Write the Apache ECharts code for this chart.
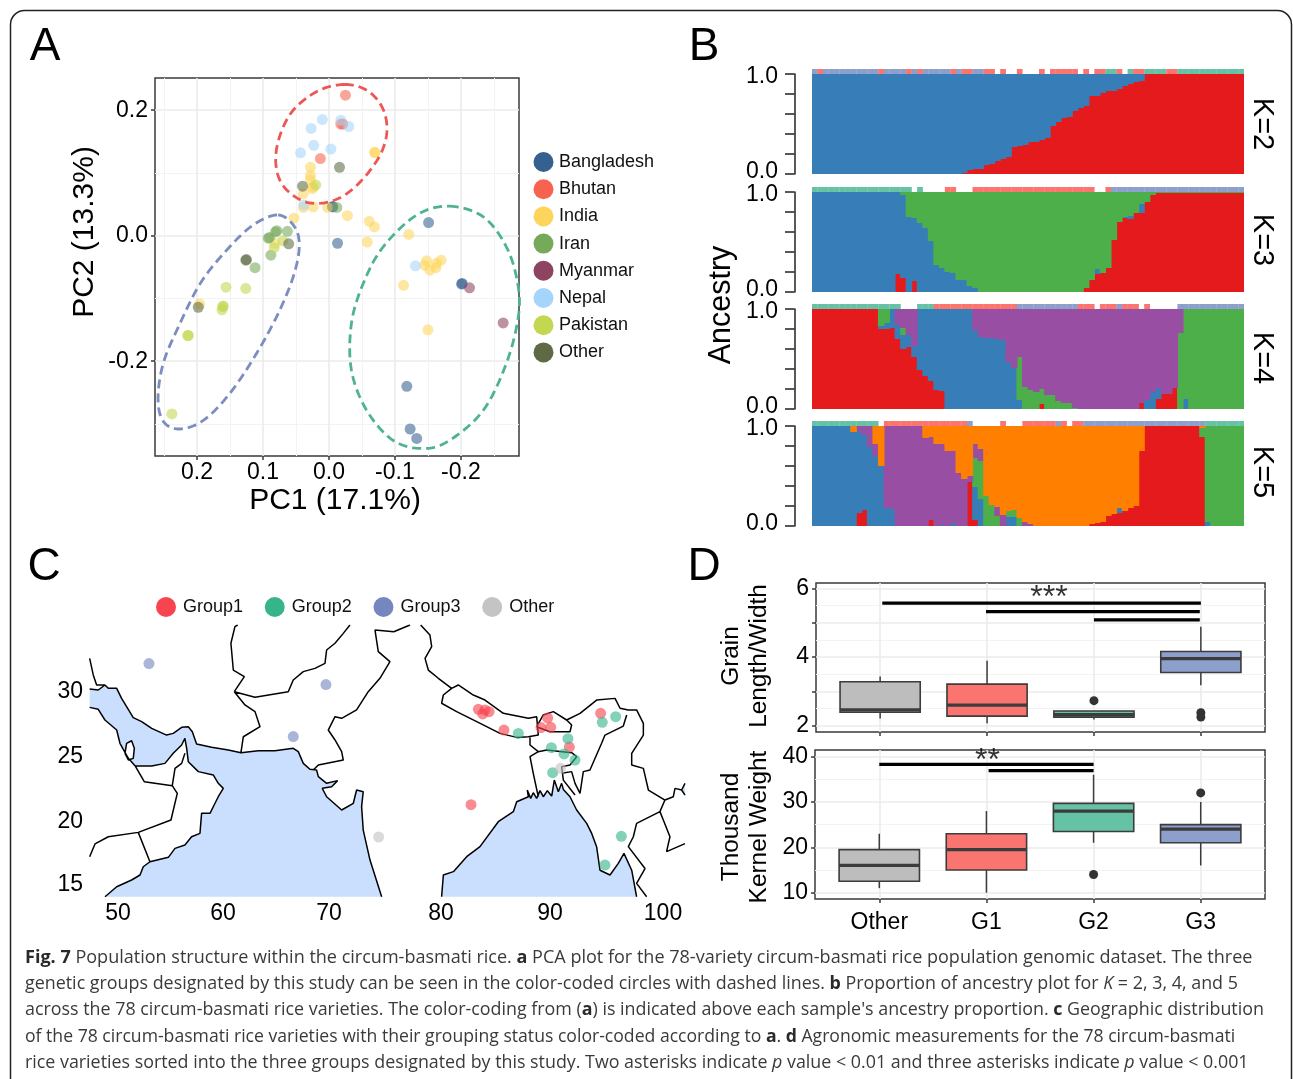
<!DOCTYPE html>
<html><head><meta charset="utf-8">
<style>html,body{margin:0;padding:0;background:#fff}#c{width:1293px;height:1079px}</style>
<script src="https://cdn.jsdelivr.net/npm/echarts@6/dist/echarts.min.js"></script>
</head><body><div id="c"></div>
<script>
/* ---------- Panel A: PCA points [PC1, PC2] ---------- */
const countryNames = ['Bangladesh','Bhutan','India','Iran','Myanmar','Nepal','Pakistan','Other'];
const countryColors = ['#35608F','#F8634F','#FDD55C','#77A95B','#8E4460','#A6D5FB','#C3D750','#5F6A45'];
const pcaBangladesh = [[-.005,.046],[-.006,.046],[-.013,-.012],[-.151,.021],[-.202,-.076],[-.201,-.077],[-.118,-.240],[-.123,-.308],[-.133,-.323]];
const pcaBhutan = [[-.025,.224],[-.021,.178],[-.018,.178],[.013,.123]];
const pcaIndia = [[-.070,.132],[-.069,.133],[.028,.109],[.028,.096],[.028,.089],[.025,.075],[.024,.078],[.039,.067],[.039,.045],[.024,.046],[.002,.045],[-.028,.032],[.053,.028],[-.061,.023],[-.069,.014],[-.058,-.010],[-.121,.002],[.196,-.109],[.082,-.012],[-.148,-.040],[-.145,-.047],[-.153,-.055],[-.162,-.051],[-.170,-.039],[-.163,-.044],[-.113,-.079],[-.150,-.150]];
const pcaIran = [[.079,.008],[.081,.006],[.090,-.003],[.092,-.004],[.063,.007],[.088,-.031],[.112,-.051],[-.012,.045]];
const pcaMyanmar = [[-.213,-.083],[-.264,-.139]];
const pcaNepal = [[.010,.185],[.027,.171],[-.018,.184],[-.030,.174],[.023,.144],[-.003,.138],[.043,.132],[.038,.049],[-.131,-.048]];
const pcaPakistan = [[.020,.081],[.070,-.008],[.083,-.019],[.156,-.082],[.126,-.084],[.161,-.113],[.160,-.112],[.162,-.118],[.214,-.159],[.213,-.159],[.238,-.284]];
const pcaOther = [[-.016,.109],[.040,.079],[.126,-.039],[.125,-.038],[.198,-.114],[.061,-.013]];
const pcaSets = [pcaBangladesh,pcaBhutan,pcaIndia,pcaIran,pcaMyanmar,pcaNepal,pcaPakistan,pcaOther];
/* dashed group outlines (closed loops) */
const ringGroup1 = [[-.024,.241],[-.057,.232],[-.080,.206],[-.088,.171],[-.080,.134],[-.057,.097],[-.027,.067],[.004,.053],[.036,.054],[.064,.073],[.078,.099],[.080,.134],[.069,.174],[.049,.206],[.014,.232]];
const ringGroup3 = [[.077,.033],[.052,.014],[.045,-.018],[.054,-.065],[.077,-.124],[.110,-.188],[.150,-.251],[.190,-.294],[.226,-.308],[.251,-.296],[.259,-.259],[.251,-.203],[.228,-.145],[.195,-.076],[.155,-.023],[.115,.017]];
const ringGroup2 = [[-.183,.047],[-.234,.030],[-.269,-.018],[-.286,-.076],[-.287,-.129],[-.269,-.203],[-.234,-.278],[-.183,-.326],[-.143,-.339],[-.097,-.326],[-.057,-.278],[-.034,-.214],[-.034,-.140],[-.052,-.076],[-.082,-.018],[-.133,.033]];
const pcaTicksX = [.2,.1,0,-.1,-.2];
const pcaTicksY = [.2,0,-.2];

/* ---------- Panel B: ancestry proportions, 78 varieties ---------- */
const k2Red = [0,0,0,0,0,0,0,0,0,0, 0,0,0,0,0,0,0,0,0,0, 0,0,0,0,0,0,0,.01,.04,.05, .05,.09,.10,.13,.15,.17,.27,.28,.29,.32, .32,.34,.36,.48,.52,.56,.57,.63,.66,.68, .78,.78,.81,.83,.83,.85,.88,.90,.92,.93, 1,1,1,1,1,1,1,1,1,1, 1,1,1,1,1,1,1,1];
const k2Blue = [1,1,1,1,1,1,1,1,1,1, 1,1,1,1,1,1,1,1,1,1, 1,1,1,1,1,1,1,.99,.96,.95, .95,.91,.90,.87,.85,.83,.73,.72,.71,.68, .68,.66,.64,.52,.48,.44,.43,.37,.34,.32, .22,.22,.19,.17,.17,.15,.12,.10,.08,.07, 0,0,0,0,0,0,0,0,0,0, 0,0,0,0,0,0,0,0];
const k3Red = [0,0,0,0,0,0,0,0,0,0, 0,0,0,0,0,.18,.14,0,.11,0, 0,0,0,0,0,0,0,0,0,0, 0,0,0,0,0,0,0,0,0,0, 0,0,0,0,0,0,0,0,0,.04, .12,.18,.19,.24,.52,.70,.74,.73,.79,.79, .90,.97,.99,.99,.99,.99,.99,.99,.99,.99, .99,.99,.99,.99,.99,.99,.99,.99];
const k3Blue = [1,1,1,1,1,1,1,1,1,1, 1,1,1,1,1,.82,.83,.75,.63,.69, .64,.51,.27,.24,.20,.19,.12,.12,.06,.04, 0,0,0,0,0,0,0,0,0,0, 0,0,0,0,0,0,0,0,0,0, 0,.05,0,0,0,0,.01,.03,0,.09, 0,0,0,0,0,0,0,0,0,0, 0,0,0,0,0,0,0,0];
const k3Green = [0,0,0,0,0,0,0,0,0,0, 0,0,0,0,0,0,.03,.25,.26,.31, .36,.49,.73,.76,.80,.81,.88,.88,.94,.96, 1,1,1,1,1,1,1,1,1,1, 1,1,1,1,1,1,1,1,1,.96, .88,.77,.81,.76,.48,.30,.25,.24,.21,.12, .10,.03,.01,.01,.01,.01,.01,.01,.01,.01, .01,.01,.01,.01,.01,.01,.01,.01];
const k4Red = [1,1,1,1,1,1,1,1,1,1, 1,1,.80,.80,.81,.70,.60,.62,.52,.39, .33,.28,.19,.18,0,0,0,0,0,0, 0,0,0,0,0,0,0,0,0,0, 0,.05,0,0,0,0,0,0,0,0, 0,0,0,0,0,0,0,0,0,.06, 0,0,.10,.15,.15,.21,0,0,0,0, 0,0,0,0,0,0,0,0];
const k4Blue = [0,0,0,0,0,0,0,0,0,0, 0,0,.03,.06,.19,.14,.14,.12,.11,.61, .67,.72,.81,.82,1,1,1,1,1,.79, .72,.71,.71,.70,.69,.47,.41,.09,0,0, 0,0,0,0,0,0,0,0,0,0, 0,0,0,0,0,0,0,0,0,0, .09,.17,.11,0,0,0,0,.10,0,0, 0,0,0,0,0,0,0,0];
const k4Green = [0,0,0,0,0,0,0,0,0,0, 0,0,.17,.14,0,0,.07,0,0,0, 0,0,0,0,0,0,0,0,0,0, 0,0,0,0,0,0,0,.43,.22,.19, .17,.15,.14,.14,.08,.06,.06,.01,0,0, 0,0,0,0,0,0,0,0,0,0, 0,0,0,0,0,0,.76,.90,1,1, 1,1,1,1,1,1,1,1];
const k4Purple = [0,0,0,0,0,0,0,0,0,0, 0,0,0,0,0,.16,.19,.26,.37,0, 0,0,0,0,0,0,0,0,0,.21, .28,.29,.29,.30,.31,.53,.59,.48,.78,.81, .83,.80,.86,.86,.92,.94,.94,.99,1,1, 1,1,1,1,1,1,1,1,1,.94, .91,.83,.79,.85,.85,.79,.24,0,0,0, 0,0,0,0,0,0,0,0];
const k5Red = [0,0,0,0,0,0,0,0,.13,.16, 0,0,0,0,0,0,0,0,0,0, 0,.06,0,0,0,0,0,0,.44,.06, 0,0,0,0,0,0,0,0,0,0, 0,0,0,0,0,0,0,0,0,0, .02,.03,.04,.10,.12,.13,.15,.18,.20,.75, 1,1,1,1,1,1,1,1,1,1, .89,0,0,0,0,0,0,0];
const k5Blue = [1,1,1,1,1,1,1,.94,.82,.75, .79,.70,.60,.18,.17,0,0,0,0,0, 0,0,0,.01,0,.03,0,0,0,.33, .27,0,0,0,0,.09,.09,0,0,0, 0,0,0,0,0,0,0,0,0,0, 0,0,0,0,0,.05,0,0,0,0, 0,0,0,0,0,0,0,0,0,0, 0,.04,0,0,0,0,0,0];
const k5Green = [0,0,0,0,0,0,0,0,0,0, 0,0,0,0,0,0,0,0,0,0, 0,0,0,0,0,0,0,0,0,.29, .38,.30,.21,.10,0,.06,.07,.08,0,0, 0,0,0,0,0,0,0,0,0,0, 0,0,0,0,0,0,0,0,0,0, 0,0,0,0,0,0,0,0,0,0, .09,.96,1,1,1,1,1,1];
const k5Purple = [0,0,0,0,0,0,0,0,.05,.09, .21,.12,0,.82,.83,1,1,1,1,1, .88,.83,.82,.81,.75,.72,.53,.47,.06,.14, .12,0,0,.09,.11,0,0,0,.04,.02, 0,0,0,0,0,0,0,0,0,0, 0,0,0,0,0,0,0,0,0,0, 0,0,0,0,0,0,0,0,0,0, 0,0,0,0,0,0,0,0];
const k5Orange = [0,0,0,0,0,0,0,.06,0,0, 0,.18,.40,0,0,0,0,0,0,0, .12,.11,.18,.18,.25,.25,.47,.53,.50,.18, .23,.70,.79,.81,.89,.85,.84,.92,.96,.98, 1,1,1,1,1,1,1,1,1,1, .98,.97,.96,.90,.88,.82,.85,.82,.80,.25, 0,0,0,0,0,0,0,0,0,0, .02,0,0,0,0,0,0,0];
/* group of each variety above the bars: 0 none, 1 Group1, 2 Group2, 3 Group3 */
const stripK2 = '3 1 3333333333 1 3333 1 3 1 33333 1 3 11 33 11 0 1 00 1 000 1 0 11111 0 1 0 11 22 1 0 2 11 2222 11 222222222222';
const stripK3 = '222222222222222222 0 2 0000 11 000 1111111111111111111111 00 1 333333333333333333333333';
const stripK4 = '2222222222222222 000 222 111111111111111 33333333333 111 0 111 3 111 0 1 00000 333333333333';
const stripK5 = '222222222222 0 111111111111111 3 00000 1 000 111111 3 1 0 11 3333333333333333333333 2222222';
const ancestryColors = {red:'#E41A1C',blue:'#377EB8',green:'#4DAF4A',purple:'#984EA3',orange:'#FF7F00'};
const stripColors = ['rgba(0,0,0,0)','#FB746D','#66C2A5','#8DA0CB'];
const panelsB = [
  {label:'K=2', strip:stripK2, parts:[['red',k2Red],['blue',k2Blue]]},
  {label:'K=3', strip:stripK3, parts:[['red',k3Red],['blue',k3Blue],['green',k3Green]]},
  {label:'K=4', strip:stripK4, parts:[['red',k4Red],['blue',k4Blue],['green',k4Green],['purple',k4Purple]]},
  {label:'K=5', strip:stripK5, parts:[['red',k5Red],['blue',k5Blue],['green',k5Green],['purple',k5Purple],['orange',k5Orange]]}
];

/* ---------- Panel C: map outlines [lon, lat] ---------- */
const coastGulfNorth = [[47.40,30.08],[48.19,30.00],[48.80,30.39],[49.11,30.13],[49.88,30.13],[50.33,29.35],[50.79,28.71],[51.40,27.85],[52.17,27.54],[53.09,27.02],[54.46,26.50],[55.07,26.63],[55.84,27.10],[56.45,27.15],[56.82,26.76],[57.21,25.80],[58.59,25.55],[60.12,25.34],[61.28,25.13],[62.87,25.29],[64.40,25.29],[66.08,25.47],[66.54,25.21],[67.00,24.30],[67.61,23.84],[68.22,23.79],[68.38,23.27],[69.14,22.75],[70.15,22.96],[69.60,22.49],[68.74,22.36],[69.14,21.71],[70.52,20.68],[71.59,21.20],[71.89,22.23],[72.50,22.10],[72.35,20.94],[72.50,19.12],[73.12,16.79],[74.19,13.94]];
const coastArabiaSouth = [[48.81,13.94],[49.88,14.72],[51.25,15.24],[52.02,15.63],[52.32,16.27],[52.93,16.66],[54.62,17.00],[55.23,17.70],[56.14,17.96],[56.75,18.60],[57.52,18.86],[57.67,20.42],[58.44,20.42],[58.90,21.20],[59.20,21.71],[59.66,22.36],[59.20,22.75],[58.74,23.40],[57.37,23.66],[56.45,24.43],[56.30,25.47],[56.14,26.25],[55.84,25.73],[55.07,25.08],[54.31,24.30],[53.09,24.10],[51.56,24.12],[50.95,24.69],[50.18,25.86],[49.88,26.89],[48.80,27.67],[48.19,28.50],[47.40,28.65]];
const coastQatar = [[50.64,25.08],[50.79,25.86],[51.25,26.06],[51.50,25.47],[51.40,24.69],[50.95,24.56],[50.64,25.08]];
const coastBengal = [[79.69,13.94],[79.85,15.63],[80.77,15.89],[81.99,17.05],[83.21,17.83],[84.89,19.77],[86.27,20.55],[86.58,21.32],[87.65,21.71],[87.55,22.23],[87.86,21.58],[88.10,22.02],[88.41,21.58],[88.72,22.18],[89.02,21.71],[89.39,22.18],[89.79,21.76],[90.03,23.00],[90.40,22.10],[90.70,22.75],[90.86,22.28],[91.47,21.71],[92.08,20.68],[93.00,19.64],[93.46,18.86],[93.91,17.83],[94.22,16.00],[95.14,15.63],[95.90,16.53],[96.42,17.31],[97.13,16.00],[97.58,13.94]];
const coastGulfThailand = [[102.02,22.75],[101.71,22.23],[102.02,21.84]];
const borderIraq = [[47.40,32.46],[47.73,31.17],[48.04,30.39],[48.80,30.39]];
const borderOman = [[51.56,24.12],[52.41,22.88],[54.98,22.57],[55.44,21.97],[54.86,19.90],[51.86,18.94],[49.11,18.60],[47.89,18.04],[47.40,17.05]];
const borderYemen = [[51.86,18.94],[52.93,16.66]];
const borderUae = [[54.98,22.57],[55.23,23.91],[55.84,24.30],[56.14,25.08]];
const borderIranPak = [[61.28,25.13],[61.50,26.37],[63.03,27.15],[62.57,28.32],[61.65,28.84],[60.67,29.87]];
const borderIranAfg = [[60.67,29.87],[61.59,31.04],[60.58,31.55],[60.36,33.63],[60.73,34.92],[60.98,35.05]];
const borderAfgPak = [[60.67,29.87],[62.57,29.43],[65.62,29.87],[66.08,30.78],[67.00,31.43],[68.07,31.68],[68.99,32.07],[69.14,33.11],[69.91,33.63],[70.67,34.40],[71.28,35.05]];
const borderPakIndia = [[67.92,23.79],[68.38,24.17],[70.67,24.56],[70.52,25.21],[69.91,26.12],[69.29,26.89],[69.91,27.93],[70.52,27.80],[71.89,28.45],[72.96,29.87],[74.03,30.91],[74.95,32.20],[73.88,32.98],[73.58,34.66],[75.30,34.53],[76.79,35.05]];
const borderIndiaChina = [[77.77,35.05],[78.62,34.27],[78.78,33.37],[78.17,32.46],[78.47,31.55],[79.39,30.91],[80.61,30.13]];
const borderNepalSouth = [[80.61,30.13],[79.85,29.61],[79.69,28.97],[81.07,28.32],[82.91,27.54],[85.05,26.63],[86.58,26.32],[87.65,26.37]];
const borderNepalNorth = [[80.61,30.13],[81.22,30.39],[82.60,29.61],[83.67,29.22],[85.35,28.19],[87.65,27.80],[88.41,27.93],[88.56,26.50],[87.65,26.37]];
const borderBhutan = [[88.41,27.15],[89.02,28.06],[89.94,28.32],[91.16,27.67],[91.62,27.28],[91.47,26.76],[89.63,26.76],[88.41,27.15]];
const borderEast = [[91.16,27.67],[92.39,28.19],[93.91,29.22],[95.60,29.35],[96.06,28.58],[96.82,28.45],[97.58,28.45],[98.20,27.41],[98.20,26.50],[97.13,25.08],[97.13,24.17],[98.20,23.91],[98.66,22.23],[100.18,21.45],[99.72,20.55],[97.58,19.64],[97.28,18.60],[96.82,17.83],[98.35,16.13],[97.58,14.98],[98.50,13.94]];
const borderNeIndia = [[96.67,28.06],[96.36,27.20],[94.68,26.50],[94.37,25.86],[93.30,23.79],[92.69,23.66],[92.39,21.97],[91.93,22.75],[91.62,23.66],[90.70,23.53]];
const borderBangladeshWest = [[87.80,26.37],[87.80,25.73],[88.56,25.21],[87.80,24.82],[88.10,23.53],[88.56,21.71]];
const borderBangladeshNorth = [[88.56,25.21],[89.33,25.34],[91.62,25.13],[92.08,24.82],[91.47,24.17],[90.70,24.04],[90.86,23.00],[91.93,21.84]];
const borderLaos = [[100.18,21.45],[100.95,21.71],[101.10,22.36],[101.71,22.23]];
const borderThailand = [[99.72,20.55],[100.03,19.90],[100.64,18.60],[100.33,17.44],[102.02,18.07]];
const mapLines = [coastGulfNorth,coastArabiaSouth,coastQatar,coastBengal,coastGulfThailand,borderIraq,borderOman,borderYemen,borderUae,borderIranPak,borderIranAfg,borderAfgPak,borderPakIndia,borderIndiaChina,borderNepalSouth,borderNepalNorth,borderBhutan,borderEast,borderNeIndia,borderBangladeshWest,borderBangladeshNorth,borderLaos,borderThailand];
const groupNames = ['Group1','Group2','Group3','Other'];
const groupColors = ['#F8444F','#36B58D','#7687BF','#C4C4C4'];
const siteGroup1 = [[83.06,28.50],[83.46,28.14],[83.67,28.45],[84.04,28.32],[85.41,26.89],[89.42,27.83],[88.81,27.08],[89.70,27.10],[91.41,25.57],[94.28,28.19],[82.39,21.09]];
const siteGroup2 = [[86.73,26.63],[91.28,26.22],[89.76,25.52],[90.92,25.03],[91.93,24.56],[89.88,23.58],[94.43,27.49],[95.66,27.93],[96.18,18.63],[94.68,16.40]];
const siteGroup3 = [[52.84,32.05],[69.08,30.42],[66.08,26.38]];
const siteOther = [[73.91,18.58],[90.61,23.92]];
const siteSets = [siteGroup1,siteGroup2,siteGroup3,siteOther];
const mapLonTicks = [50,59.63,69.36,79.63,89.63,100];
const mapLatTicks = [29.85,24.8,19.75,14.85];

/* ---------- Panel D: boxes [x, low, Q1, median, Q3, high] ---------- */
const traitCategories = ['Other','G1','G2','G3'];
const boxColors = ['#BDBDBD','#FA7470','#66C2A5','#8DA0CB'];
const grainBoxes = [[1,2.21,2.39,2.46,3.28,3.43],[2,2.07,2.28,2.60,3.21,3.89],[3,2.18,2.25,2.32,2.43,2.43],[4,3.18,3.55,3.95,4.16,4.88]];
const grainOutliers = [[3,2.73],[4,2.38],[4,2.25]];
const grainBars = [[[1.02,5.57],[4,5.57]],[[1.99,5.32],[3.99,5.32]],[[3,5.08],[3.99,5.08]]];
const weightBoxes = [[1,11,12.5,16,19.5,23],[2,10,15,19.5,23,28],[3,21,23.5,28,29.7,36],[4,16,21,24,25,30]];
const weightOutliers = [[3,14],[4,32]];
const weightBars = [[[1,38.3],[3,38.3]],[[2.02,36.9],[3,36.9]]];

/* ---------- assembling ---------- */
const SANS = '"Liberation Sans", Arial, sans-serif';
const grid=[], xAxis=[], yAxis=[], series=[];
const grey={major:'#EBEBEB',minor:'#F3F3F3',frame:'#3A3A3A'};
const broken = lines => lines.flatMap((l,i)=> i? [[null,null],...l] : l);

function addPlot(box, xr, yr, xMajor, xMinor, yMajor, yMinor, xLabels, yLabels, xFmt, yFmt, inverse, xMargin){
  const g=grid.length;
  grid.push({...box, containLabel:false, show:true, backgroundColor:'transparent', borderColor:grey.frame, borderWidth:1.5});
  const tickStyle={show:true,length:4,lineStyle:{color:grey.frame,width:1.5}};
  const minorAxis = (range,ticks,pos)=>({gridIndex:g,type:'value',min:range[0],max:range[1],position:pos,inverse:pos==='top'?!!inverse:false,
    axisLine:{show:false,onZero:false},axisLabel:{show:false},axisTick:{show:false,customValues:ticks},
    splitLine:{show:true,lineStyle:{color:grey.minor,width:1}}});
  const ix=xAxis.length; const iy=yAxis.length;
  xAxis.push({gridIndex:g,type:'value',min:xr[0],max:xr[1],position:'bottom',inverse:!!inverse,
    axisLine:{show:false,onZero:false},axisTick:{...tickStyle,customValues:xMajor},
    axisLabel:{show:!!xLabels,customValues:xLabels||[],formatter:xFmt,color:'#000',fontFamily:SANS,fontSize:23,margin:xMargin,hideOverlap:false,showMinLabel:true,showMaxLabel:true},
    splitLine:{show:true,lineStyle:{color:grey.major,width:1.6}}});
  yAxis.push({gridIndex:g,type:'value',min:yr[0],max:yr[1],position:'left',
    axisLine:{show:false,onZero:false},axisTick:{...tickStyle,customValues:yMajor},
    axisLabel:{show:!!yLabels,customValues:yLabels||[],formatter:yFmt,color:'#000',fontFamily:SANS,fontSize:23,margin:7,hideOverlap:false,showMinLabel:true,showMaxLabel:true},
    splitLine:{show:true,lineStyle:{color:grey.major,width:1.6}}});
  if(xMinor){xAxis.push(minorAxis(xr,xMinor,'top'));}
  if(yMinor){yAxis.push(minorAxis(yr,yMinor,'right'));}
  return {g,ix,iy};
}

/* Panel A */
const fmt1 = v=>(+v).toFixed(1);
const A = addPlot({left:155,top:78,width:364,height:378},[-.288,.2636],[-.351,.2513],
  pcaTicksX,[.25,.15,.05,-.05,-.15,-.25],pcaTicksY,[.1,-.1,-.3],pcaTicksX,pcaTicksY,fmt1,fmt1,true,5);
pcaSets.forEach((d,i)=>series.push({type:'scatter',name:countryNames[i],xAxisIndex:A.ix,yAxisIndex:A.iy,data:d,symbolSize:11,
  itemStyle:{color:countryColors[i],opacity:.58,borderWidth:0},z:3}));
/* closed Catmull-Rom curve through the read points, drawn in screen space */
const closedCurve=(pts)=>{
  const out=[], n=pts.length, steps=12;
  for(let i=0;i<n;i++){
    const p0=pts[(i-1+n)%n],p1=pts[i],p2=pts[(i+1)%n],p3=pts[(i+2)%n];
    for(let s=0;s<steps;s++){
      const t=s/steps,t2=t*t,t3=t2*t;
      out.push([0,1].map(k=>.5*(2*p1[k]+(p2[k]-p0[k])*t+(2*p0[k]-5*p1[k]+4*p2[k]-p3[k])*t2+(3*p1[k]-p0[k]-3*p2[k]+p3[k])*t3)));
    }
  }
  out.push(out[0]);
  return out;
};
const rings=[[ringGroup1,'#EE5555'],[ringGroup3,'#7C8DBF'],[ringGroup2,'#4FB38F']];
series.push({type:'custom',xAxisIndex:A.ix,yAxisIndex:A.iy,silent:true,z:4,data:rings.map(r=>r[0][0]),clip:false,
  renderItem:(params,api)=>{
    const [pts,color]=rings[params.dataIndex];
    return {type:'polyline',shape:{points:closedCurve(pts.map(p=>api.coord(p)))},
      style:{stroke:color,fill:null,lineWidth:2.8,lineDash:[9,5]}};
  }});

/* Panel B */
const layoutB=[{top:74,strip:69},{top:192,strip:187},{top:309,strip:304},{top:426,strip:421}];
const varieties = k2Red.map((_,i)=>String(i+1));
panelsB.forEach((p,n)=>{
  const L=layoutB[n];
  const g=grid.length, ix=xAxis.length, iy=yAxis.length;
  grid.push({left:812,width:432,top:L.top,height:100});
  xAxis.push({gridIndex:g,type:'category',data:varieties,show:false,boundaryGap:true});
  yAxis.push({gridIndex:g,type:'value',min:0,max:1,interval:.2,position:'left',offset:17.5,
    axisLine:{show:true,onZero:false,lineStyle:{color:'#222',width:1.5}},
    axisTick:{show:true,length:9.5,lineStyle:{color:'#222',width:1.5}},
    splitLine:{show:false},
    axisLabel:{customValues:[.025,.97],formatter:v=>Math.round(v).toFixed(1),color:'#000',fontFamily:SANS,fontSize:23,margin:16.5,showMinLabel:true,showMaxLabel:true}});
  p.parts.forEach(([c,d])=>series.push({type:'bar',xAxisIndex:ix,yAxisIndex:iy,stack:'k'+n,data:d,barWidth:'118%',
    itemStyle:{color:ancestryColors[c],borderWidth:0},silent:true}));
  const gs=grid.length, ixs=xAxis.length, iys=yAxis.length;
  grid.push({left:812,width:432,top:L.strip,height:5});
  xAxis.push({gridIndex:gs,type:'category',data:varieties,show:false});
  yAxis.push({gridIndex:gs,type:'value',min:0,max:1,show:false});
  const codes=p.strip.replace(/ /g,'').split('').map(Number);
  series.push({type:'bar',xAxisIndex:ixs,yAxisIndex:iys,barWidth:'104%',silent:true,
    data:codes.map(c=>({value:1,itemStyle:{color:stripColors[c]}}))});
});

/* Panel C */
const mgi=grid.length, mxi=xAxis.length, myi=yAxis.length;
grid.push({left:89,top:625,width:596,height:272});
xAxis.push({gridIndex:mgi,type:'value',min:47.34,max:102.02,axisLine:{show:false,onZero:false},axisTick:{show:false,customValues:mapLonTicks},splitLine:{show:false},
  axisLabel:{customValues:mapLonTicks,formatter:v=>String(Math.round(v/10)*10),color:'#000',fontFamily:SANS,fontSize:23,margin:5,showMinLabel:true,showMaxLabel:true}});
yAxis.push({gridIndex:mgi,type:'value',min:13.92,max:35.05,axisLine:{show:false,onZero:false},axisTick:{show:false,customValues:mapLatTicks},splitLine:{show:false},
  axisLabel:{customValues:mapLatTicks,formatter:v=>String(Math.round(v/5)*5),color:'#000',fontFamily:SANS,fontSize:23,margin:6,showMinLabel:true,showMaxLabel:true}});
const seaPolygons=[[...coastGulfNorth,...coastArabiaSouth],coastBengal,coastGulfThailand];
series.push({type:'custom',xAxisIndex:mxi,yAxisIndex:myi,silent:true,z:1,clip:true,data:seaPolygons.map(p=>p[0]),
  renderItem:(params,api)=>({type:'polygon',shape:{points:seaPolygons[params.dataIndex].map(p=>api.coord(p))},style:{fill:'#C9DFFD',stroke:null}})});
series.push({type:'custom',xAxisIndex:mxi,yAxisIndex:myi,silent:true,z:2,clip:true,data:[coastQatar[0]],
  renderItem:(params,api)=>({type:'polygon',shape:{points:coastQatar.map(p=>api.coord(p))},style:{fill:'#fff',stroke:null}})});
series.push({type:'line',xAxisIndex:mxi,yAxisIndex:myi,silent:true,z:3,showSymbol:false,connectNulls:false,data:broken(mapLines),lineStyle:{color:'#000',width:1.5},clip:true});
siteSets.forEach((d,i)=>series.push({type:'scatter',name:groupNames[i],xAxisIndex:mxi,yAxisIndex:myi,data:d,symbolSize:11,z:4,
  itemStyle:{color:groupColors[i],opacity:.62,borderWidth:0}}));

/* Panel D */
const renderBox=(params,api)=>{
  const x=api.value(0), lo=api.coord([x,api.value(1)]), q1=api.coord([x,api.value(2)]), med=api.coord([x,api.value(3)]), q3=api.coord([x,api.value(4)]), hi=api.coord([x,api.value(5)]);
  const hw=api.size([.75,0])[0]/2, stroke='#3C3C3C';
  return {type:'group',children:[
    {type:'line',shape:{x1:lo[0],y1:lo[1],x2:hi[0],y2:hi[1]},style:{stroke,lineWidth:1.5}},
    {type:'rect',shape:{x:q3[0]-hw,y:q3[1],width:hw*2,height:q1[1]-q3[1]},style:{fill:boxColors[params.dataIndex],stroke,lineWidth:1.6}},
    {type:'line',shape:{x1:med[0]-hw,y1:med[1],x2:med[0]+hw,y2:med[1]},style:{stroke,lineWidth:3.2}}
  ]};
};
const catFmt=v=>traitCategories[Math.round(v)-1];
function addTrait(box,yr,yMajor,yMinor,yLabels,boxes,outliers,bars,stars,showCats){
  const P=addPlot(box,[.4,4.6],yr,[1,2,3,4],null,yMajor,yMinor,showCats?[1,2,3,4]:null,yLabels,catFmt,null,false,12);
  series.push({type:'custom',xAxisIndex:P.ix,yAxisIndex:P.iy,data:boxes,renderItem:renderBox,silent:true,z:3,encode:{x:0,y:[1,2,3,4,5]}});
  series.push({type:'scatter',xAxisIndex:P.ix,yAxisIndex:P.iy,data:outliers,symbolSize:9,silent:true,z:4,itemStyle:{color:'#333',opacity:1}});
  series.push({type:'line',xAxisIndex:P.ix,yAxisIndex:P.iy,data:broken(bars),showSymbol:false,silent:true,z:5,lineStyle:{color:'#000',width:3.2}});
  series.push({type:'scatter',xAxisIndex:P.ix,yAxisIndex:P.iy,data:[stars.at],symbolSize:1,silent:true,z:5,itemStyle:{color:'transparent'},
    label:{show:true,position:'inside',formatter:stars.text,color:'#000',fontFamily:SANS,fontSize:32}});
}
addTrait({left:816,top:583,width:449,height:149},[1.817,6.154],[2,3,4,5,6],[2.5,3.5,4.5,5.5],[2,4,6],grainBoxes,grainOutliers,grainBars,{at:[2.58,5.72],text:'***'},false);
addTrait({left:815,top:750,width:450,height:149},[8.6,41.47],[10,20,30,40],[15,25,35],[10,20,30,40],weightBoxes,weightOutliers,weightBars,{at:[2.01,38.9],text:'**'},true);

/* Text */
const txt=(text,x,y,size,extra={})=>({type:'text',x,y,z:20,rotation:extra.rotation||0,silent:true,
  style:{text,font:`${size}px ${SANS}`,fill:'#000',textAlign:extra.align||'center',textVerticalAlign:'middle',lineHeight:extra.lineHeight}});
const CAP='"Open Sans"';
const capLines=[
 '{b|Fig. 7} Population structure within the circum-basmati rice. {b|a} PCA plot for the 78-variety circum-basmati rice population genomic dataset. The three',
 'genetic groups designated by this study can be seen in the color-coded circles with dashed lines. {b|b} Proportion of ancestry plot for {i|K} = 2, 3, 4, and 5',
 "across the 78 circum-basmati rice varieties. The color-coding from ({b|a}) is indicated above each sample's ancestry proportion. {b|c} Geographic distribution",
 'of the 78 circum-basmati rice varieties with their grouping status color-coded according to {b|a}. {b|d} Agronomic measurements for the 78 circum-basmati',
 'rice varieties sorted into the three groups designated by this study. Two asterisks indicate {i|p} value < 0.01 and three asterisks indicate {i|p} value < 0.001'
];
const capSizes=[18.05,17.89,17.86,17.61,17.85];
const capY=[958,984,1010,1037,1063];
const graphic=[
  {type:'rect',z:0,silent:true,shape:{x:10.5,y:10.5,width:1281,height:1120,r:14},style:{fill:'none',stroke:'#222',lineWidth:1.5}},
  txt('A',45,47,46),txt('B',704,47,46),txt('C',44,567,46),txt('D',704,567,46),
  txt('PC1 (17.1%)',335,500.5,30),
  txt('PC2 (13.3%)',85,232,30,{rotation:Math.PI/2}),
  txt('Ancestry',722,305,30.5,{rotation:Math.PI/2}),
  txt('K=2',1262,124,29,{rotation:-Math.PI/2}),txt('K=3',1262,240,29,{rotation:-Math.PI/2}),
  txt('K=4',1262,358,29,{rotation:-Math.PI/2}),txt('K=5',1262,472,29,{rotation:-Math.PI/2}),
  txt('Grain\nLength/Width',745,656,24.4,{rotation:Math.PI/2,lineHeight:28}),
  txt('Thousand\nKernel Weight',745,827,24.4,{rotation:Math.PI/2,lineHeight:28}),
  ...capLines.map((t,i)=>({type:'text',x:25,y:capY[i],z:20,silent:true,style:{text:t,font:`${capSizes[i]}px ${CAP}`,fill:'#3A3A3A',textAlign:'left',textVerticalAlign:'middle',
    rich:{b:{font:`bold ${capSizes[i]}px ${CAP}`,fill:'#2A2A2A'},i:{font:`italic ${capSizes[i]}px ${CAP}`,fill:'#3A3A3A'}}}}))
];

const legendBase={selectedMode:false,icon:'circle',itemStyle:{opacity:1,borderWidth:0},textStyle:{color:'#111',fontFamily:SANS,fontSize:18},padding:0};
const chart=echarts.init(document.getElementById('c'),null,{renderer:'canvas'});
chart.setOption({
  animation:false,backgroundColor:'#fff',tooltip:{show:false},
  grid,xAxis,yAxis,series,graphic:{elements:graphic},
  legend:[
    {...legendBase,orient:'vertical',left:533.5,top:152,itemWidth:21,itemHeight:20,itemGap:7.2,data:countryNames},
    {...legendBase,orient:'horizontal',left:156,top:597,itemWidth:24,itemHeight:20,itemGap:21.7,
      data:groupNames.map((name,i)=>({name,itemStyle:{color:groupColors[i],opacity:1}}))}
  ]
});
</script></body></html>
